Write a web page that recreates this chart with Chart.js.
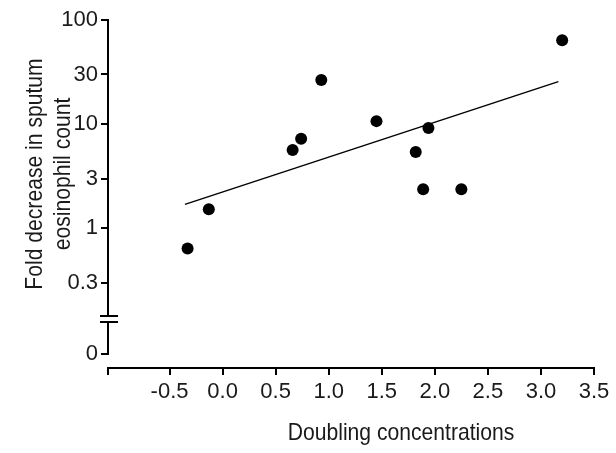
<!DOCTYPE html>
<html><head><meta charset="utf-8">
<script src="https://cdn.jsdelivr.net/npm/chart.js@4"></script>
<style>html,body{margin:0;padding:0;background:#fff}</style>
</head><body>
<canvas id="c" width="616" height="453"></canvas>
<script>
// ---- data ----
const doublingConc = [-0.33, -0.13, 0.66, 0.74, 0.93, 1.45, 1.82, 1.89, 1.94, 2.25, 3.20];
const foldDecrease = [0.64, 1.53, 5.65, 7.26, 26.6, 10.7, 5.41, 2.37, 9.2, 2.37, 63.9];
const fitX = [-0.355, 3.164];
const fitY = [1.70, 25.6];
const yTickValues = [0.3, 1, 3, 10, 30, 100];
const yTickLabels = ['0.3', '1', '3', '10', '30', '100'];
const xTickValues = [-0.5, 0, 0.5, 1, 1.5, 2, 2.5, 3, 3.5];
const xTickLabels = ['-0.5', '0.0', '0.5', '1.0', '1.5', '2.0', '2.5', '3.0', '3.5'];
const yZeroLabel = '0';
const yTitleLines = ['Fold decrease in sputum', 'eosinophil count'];
const xTitle = 'Doubling concentrations';

// ---- layout constants ----
const Y_MIN = 0.0457, Y_MAX = 100;
const Y_ZERO_POS = 0.0623;   // where the "0" of the broken axis sits
const BREAK_HI = 0.144, BREAK_LO = 0.126;
const X_MIN = -1.08, X_MAX = 3.5;
const FONT = "'Liberation Sans', Arial, sans-serif";
const TXT = '#1a1a1a';

const points = doublingConc.map((x, i) => ({x, y: foldDecrease[i]}));
const fit = fitX.map((x, i) => ({x, y: fitY[i]}));

const axisPlugin = {
  id: 'axisDeco',
  afterDraw(chart) {
    const ctx = chart.ctx, y = chart.scales.y, ca = chart.chartArea;
    const ax = ca.left;
    ctx.save();
    ctx.strokeStyle = '#000';
    ctx.lineWidth = 2;
    ctx.beginPath();
    ctx.moveTo(ax, y.getPixelForValue(Y_MAX) - 1);
    ctx.lineTo(ax, y.getPixelForValue(BREAK_HI));
    ctx.moveTo(ax, y.getPixelForValue(BREAK_LO));
    ctx.lineTo(ax, y.getPixelForValue(Y_ZERO_POS) + 1);
    ctx.stroke();
    ctx.beginPath();
    ctx.moveTo(ax - 8, y.getPixelForValue(BREAK_HI));
    ctx.lineTo(ax + 10, y.getPixelForValue(BREAK_HI));
    ctx.moveTo(ax - 8, y.getPixelForValue(BREAK_LO));
    ctx.lineTo(ax + 10, y.getPixelForValue(BREAK_LO));
    ctx.stroke();
    // titles (narrow-looking text)
    const SX = 0.88;
    ctx.fillStyle = TXT;
    ctx.font = '24px ' + FONT;
    ctx.textAlign = 'center';
    ctx.textBaseline = 'middle';
    ctx.save();
    ctx.translate(401, 433);
    ctx.scale(SX, 1);
    ctx.fillText(xTitle, 0, 0);
    ctx.restore();
    yTitleLines.forEach((t, i) => {
      ctx.save();
      ctx.translate(35 + i * 28, 174);
      ctx.rotate(-Math.PI / 2);
      ctx.scale(SX, 1);
      ctx.fillText(t, 0, 0);
      ctx.restore();
    });
    ctx.restore();
  }
};

new Chart(document.getElementById('c'), {
  type: 'scatter',
  data: {
    datasets: [
      {data: points, backgroundColor: '#000', borderWidth: 0, pointRadius: 6, pointHoverRadius: 6},
      {type: 'line', data: fit, borderColor: '#000', borderWidth: 1.5, pointRadius: 0, fill: false}
    ]
  },
  options: {
    responsive: false,
    devicePixelRatio: 1,
    animation: false,
    layout: {padding: {top: 20, right: 22, left: 0, bottom: 0}},
    plugins: {legend: {display: false}, tooltip: {enabled: false}},
    scales: {
      x: {
        type: 'linear', min: X_MIN, max: X_MAX,
        afterFit(s) { s.height = 85; },
        afterBuildTicks(s) { s.ticks = [{value: X_MIN}].concat(xTickValues.map(v => ({value: v}))); },
        ticks: {
          color: TXT, font: {family: FONT, size: 22}, padding: 4, maxRotation: 0, autoSkip: false,
          callback(v) { const i = xTickValues.indexOf(v); return i >= 0 ? xTickLabels[i] : ''; }
        },
        grid: {drawOnChartArea: false, drawTicks: true, tickLength: 7, color: '#000', lineWidth: 2},
        border: {display: true, color: '#000', width: 2}
      },
      y: {
        type: 'logarithmic', min: Y_MIN, max: Y_MAX,
        afterFit(s) { s.width = 108; },
        afterBuildTicks(s) { s.ticks = [{value: Y_ZERO_POS}].concat(yTickValues.map(v => ({value: v}))); },
        ticks: {
          color: TXT, font: {family: FONT, size: 22}, padding: 3, autoSkip: false,
          callback(v) { if (v === Y_ZERO_POS) return yZeroLabel; const i = yTickValues.indexOf(v); return i >= 0 ? yTickLabels[i] : ''; }
        },
        grid: {drawOnChartArea: false, drawTicks: true, tickLength: 7, color: '#000', lineWidth: 2},
        border: {display: false}
      }
    }
  },
  plugins: [axisPlugin]
});
</script>
</body></html>
